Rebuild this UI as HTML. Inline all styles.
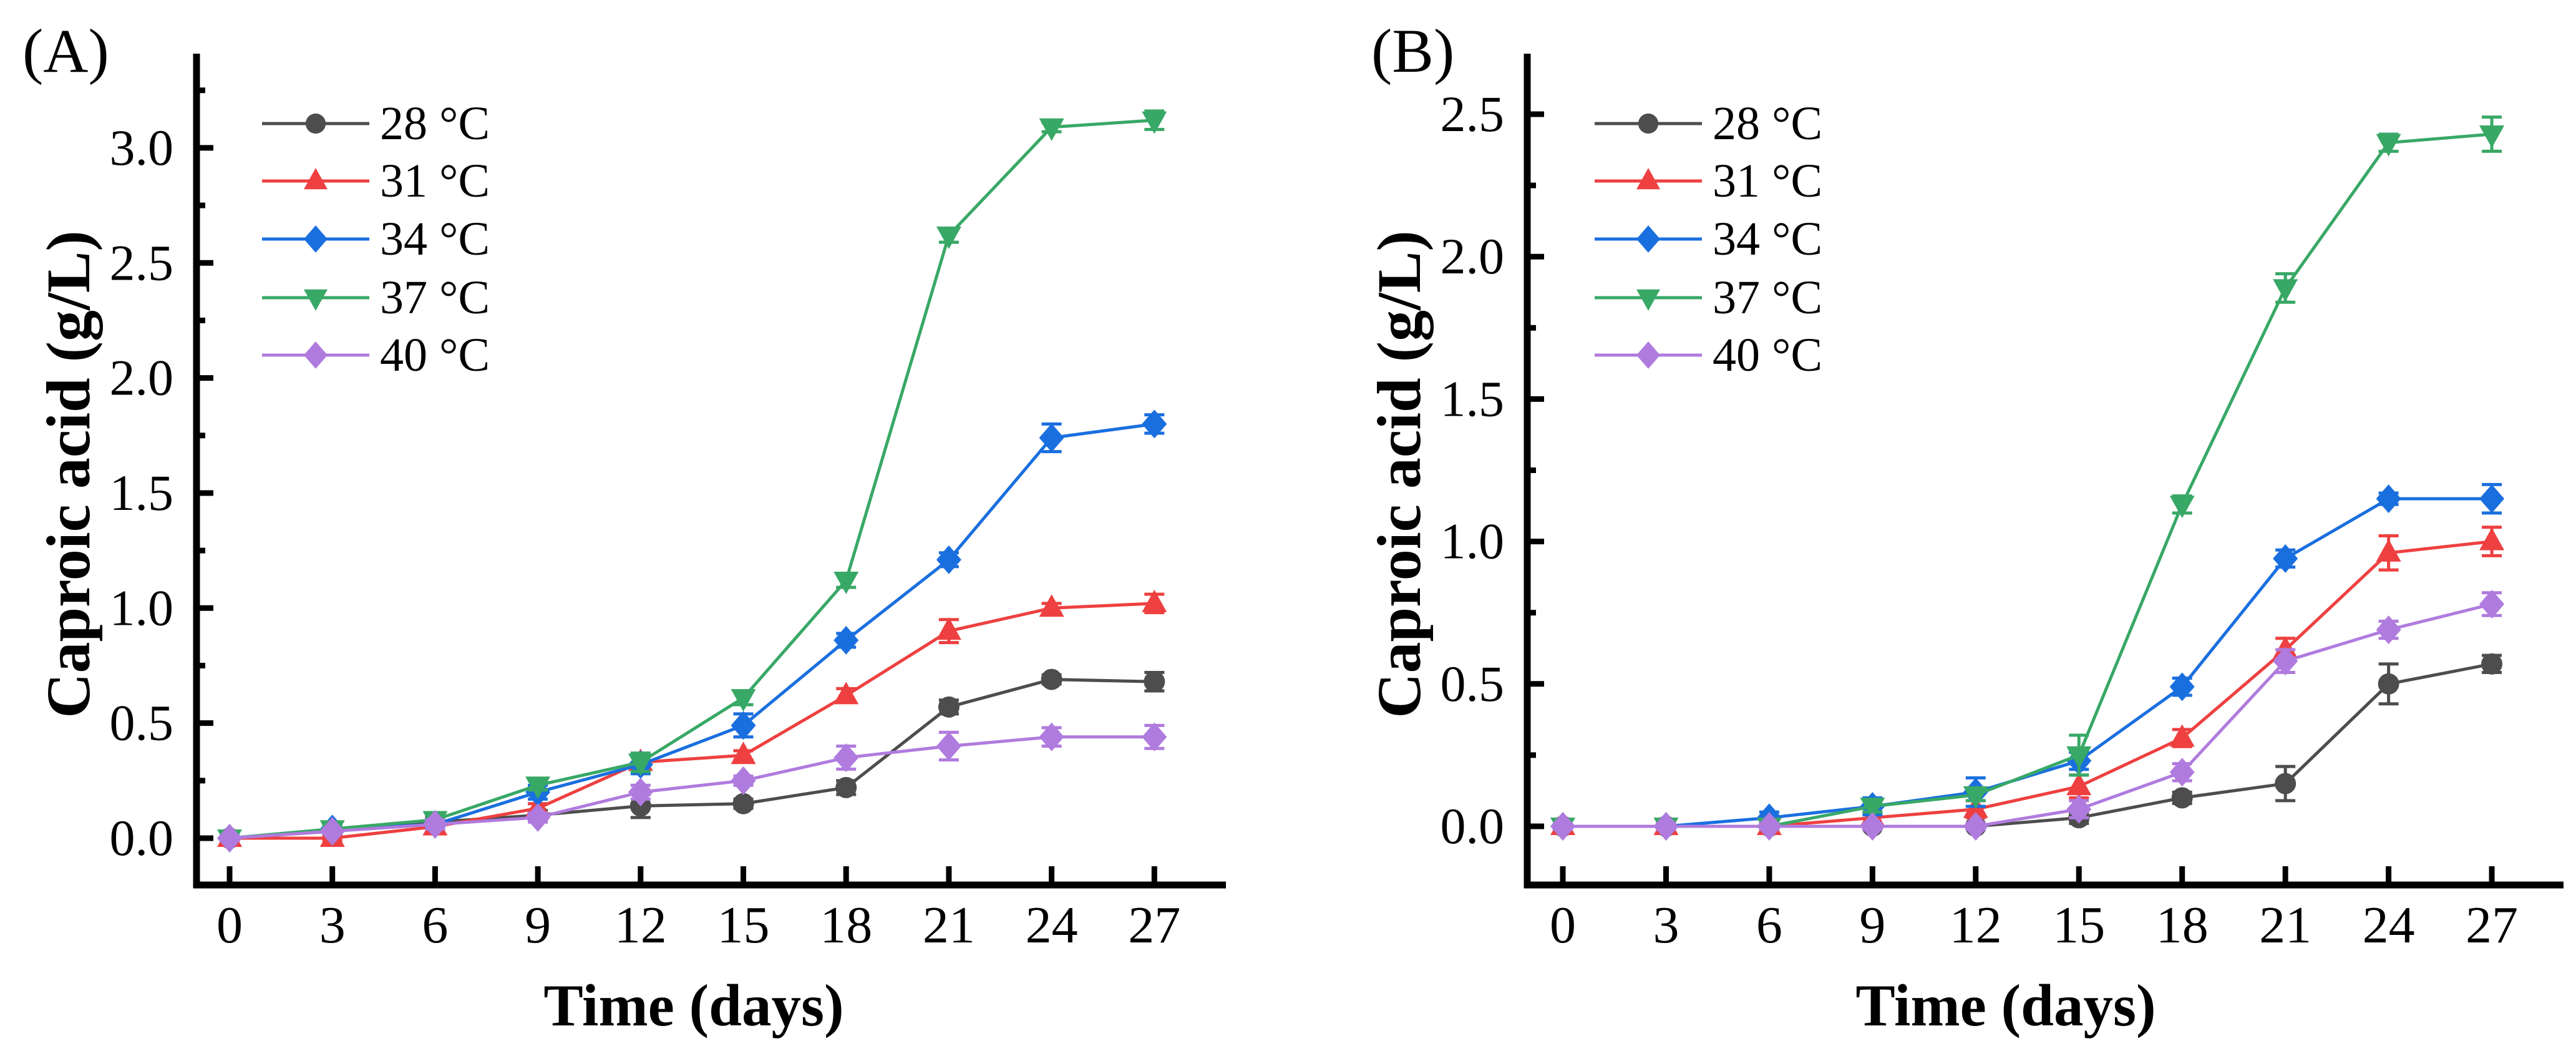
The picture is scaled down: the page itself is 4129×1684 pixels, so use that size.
<!DOCTYPE html>
<html><head><meta charset="utf-8"><style>
html,body{margin:0;padding:0;background:#fff;}
svg{display:block;}
svg text{font-family:"Liberation Serif","Times New Roman",serif;}
</style></head><body>
<svg id="chart" width="4129" height="1684" viewBox="0 0 4129 1684" xmlns="http://www.w3.org/2000/svg" font-family="Liberation Serif, serif"></svg>
<script>
const days = [0,3,6,9,12,15,18,21,24,27];
const seriesNames = ["28 °C","31 °C","34 °C","37 °C","40 °C"];
const seriesColors = ["#4d4d4d","#ee4040","#1a6fdf","#38a866","#b07bde"];
const seriesMarkers = ["circle","up","diamond","down","diamond"];
// Panel A values
const a28 = [0,0.03,0.07,0.10,0.14,0.15,0.22,0.57,0.69,0.68];
const a31 = [0,0,0.05,0.13,0.33,0.36,0.62,0.90,1.00,1.02];
const a34 = [0,0.04,0.06,0.20,0.32,0.49,0.86,1.21,1.74,1.80];
const a37 = [0,0.04,0.08,0.23,0.33,0.61,1.12,2.62,3.09,3.12];
const a40 = [0,0.03,0.06,0.09,0.20,0.25,0.35,0.40,0.44,0.44];
const aErr28 = [0.01,0.01,0.02,0.02,0.05,0.02,0.03,0.03,0.02,0.04];
const aErr31 = [0.01,0.01,0.01,0.02,0.03,0.02,0.03,0.05,0.02,0.04];
const aErr34 = [0.01,0.02,0.02,0.03,0.04,0.05,0.03,0.03,0.06,0.04];
const aErr37 = [0.01,0.01,0.02,0.02,0.04,0.03,0.03,0.03,0.02,0.04];
const aErr40 = [0.01,0.01,0.02,0.02,0.03,0.02,0.05,0.06,0.04,0.05];
// Panel B values
const b28 = [0,0,0,0,0,0.03,0.10,0.15,0.50,0.57];
const b31 = [0,0,0,0.03,0.06,0.14,0.31,0.62,0.96,1.00];
const b34 = [0,0,0.03,0.07,0.12,0.23,0.49,0.94,1.15,1.15];
const b37 = [0,0,0,0.07,0.11,0.25,1.13,1.89,2.40,2.43];
const b40 = [0,0,0,0,0,0.06,0.19,0.58,0.69,0.78];
const bErr28 = [0.01,0.01,0.01,0.01,0.01,0.02,0.02,0.06,0.07,0.03];
const bErr31 = [0.01,0.01,0.01,0.02,0.03,0.04,0.03,0.04,0.06,0.05];
const bErr34 = [0.01,0.01,0.02,0.03,0.05,0.03,0.03,0.03,0.02,0.05];
const bErr37 = [0.01,0.01,0.01,0.02,0.02,0.07,0.03,0.05,0.03,0.06];
const bErr40 = [0.01,0.01,0.01,0.01,0.01,0.03,0.03,0.04,0.03,0.04];
const aTicks = [0.0,0.5,1.0,1.5,2.0,2.5,3.0];
const bTicks = [0.0,0.5,1.0,1.5,2.0,2.5];

const NS="http://www.w3.org/2000/svg";
const FONT="Liberation Serif, Times New Roman, serif";
const svg=document.getElementById('chart');
function mk(tag,attrs,parent){const e=document.createElementNS(NS,tag);for(const k in attrs)e.setAttribute(k,attrs[k]);if(tag==='text')e.setAttribute('font-family',FONT);(parent||svg).appendChild(e);return e;}

function marker(g,type,cx,cy,color,s){
  let e;
  if(type==="circle"){e=mk('circle',{cx:cx,cy:cy,r:17*s,fill:color},g);}
  else if(type==="up"){e=mk('polygon',{points:`${cx},${cy-22*s} ${cx-20*s},${cy+14*s} ${cx+20*s},${cy+14*s}`,fill:color},g);}
  else if(type==="down"){e=mk('polygon',{points:`${cx},${cy+22*s} ${cx-20*s},${cy-14*s} ${cx+20*s},${cy-14*s}`,fill:color},g);}
  else {e=mk('polygon',{points:`${cx},${cy-23*s} ${cx+20*s},${cy} ${cx},${cy+23*s} ${cx-20*s},${cy}`,fill:color},g);}
  return e;
}

function panel(cfg){
  const {id,axX,x0,pxDay,y0,pxUnit,xEnd,ticks,vals,errs,label,labelX,titleX,legX} = cfg;
  const g=mk('g',{});
  
  
  const xs=d=>x0+d*pxDay;
  const ys=v=>y0-v*pxUnit;
  const axisY=1418;
  const pl=mk('text',{x:labelX,y:115,'font-size':100,fill:'#000'},g);
  pl.textContent=label;
  
  
  const ya=mk('line',{x1:axX,y1:86,x2:axX,y2:axisY+5,stroke:'#000','stroke-width':11},g);
  
  
  const xa=mk('line',{x1:axX-5,y1:axisY,x2:xEnd,y2:axisY,stroke:'#000','stroke-width':11},g);
  
  
  const step=ticks[1]-ticks[0];
  for(let v=ticks[0]-step/2; ys(v)>=90; v+=step/2){
    const y=ys(v);
    if(y>axisY-5) continue;
    const major=Math.abs(v/step-Math.round(v/step))<1e-6;
    const t=mk('line',{x1:axX,y1:y,x2:axX+(major?27:14),y2:y,stroke:'#000','stroke-width':9},g);
    
    
  }
  ticks.forEach(v=>{
    const t=mk('text',{x:axX-37,y:ys(v)+27,'font-size':82,'text-anchor':'end',fill:'#000'},g);
    t.textContent=v.toFixed(1);
    
    
  });
  days.forEach(d=>{
    const t=mk('line',{x1:xs(d),y1:axisY,x2:xs(d),y2:axisY-30,stroke:'#000','stroke-width':9},g);
    
    
    const l=mk('text',{x:xs(d),y:1510,'font-size':84,'text-anchor':'middle',fill:'#000'},g);
    l.textContent=String(d);
    
    
  });
  const yt=mk('text',{x:0,y:0,'font-size':100,'font-weight':'bold','text-anchor':'middle',fill:'#000',transform:`translate(${axX-172},${(86+axisY)/2+8}) rotate(-90)`},g);
  yt.textContent='Caproic acid (g/L)';
  
  
  const xt=mk('text',{x:titleX,y:1643,'font-size':95,'font-weight':'bold','text-anchor':'middle',fill:'#000'},g);
  xt.textContent='Time (days)';
  
  
  vals.forEach((arr,i)=>{
    const c=seriesColors[i];
    const sg=mk('g',{},g);
    
    
    const pts=arr.map((v,k)=>xs(days[k])+','+ys(v)).join(' ');
    mk('polyline',{points:pts,fill:'none',stroke:c,'stroke-width':5},sg);
    arr.forEach((v,k)=>{
      const e=errs[i][k]; const x=xs(days[k]);
      const eb=mk('path',{d:`M${x},${ys(v-e)}V${ys(v+e)}M${x-16},${ys(v-e)}H${x+16}M${x-16},${ys(v+e)}H${x+16}`,stroke:c,'stroke-width':5,fill:'none'},sg);
      
      
      const m=marker(sg,seriesMarkers[i],x,ys(v),c,1);
      
      
    });
  });
  const rows=[198,290,383,477,569];
  seriesNames.forEach((n,i)=>{
    const lg=mk('g',{},g);
    
    
    mk('line',{x1:legX,y1:rows[i],x2:legX+172,y2:rows[i],stroke:seriesColors[i],'stroke-width':5},lg);
    marker(lg,seriesMarkers[i],legX+86,rows[i],seriesColors[i],0.95);
    const t=mk('text',{x:legX+189,y:rows[i]+25,'font-size':76,fill:'#000'},lg);
    t.textContent=n;
  });
}

panel({id:'a',axX:315,x0:368,pxDay:54.9,y0:1343,pxUnit:368.7,xEnd:1965,ticks:aTicks,
  vals:[a28,a31,a34,a37,a40],errs:[aErr28,aErr31,aErr34,aErr37,aErr40],label:'(A)',labelX:36,titleX:1112,legX:420});
panel({id:'b',axX:2448,x0:2505,pxDay:55.15,y0:1324,pxUnit:456.4,xEnd:4109,ticks:bTicks,
  vals:[b28,b31,b34,b37,b40],errs:[bErr28,bErr31,bErr34,bErr37,bErr40],label:'(B)',labelX:2198,titleX:3215,legX:2556});
</script>
</body></html>
